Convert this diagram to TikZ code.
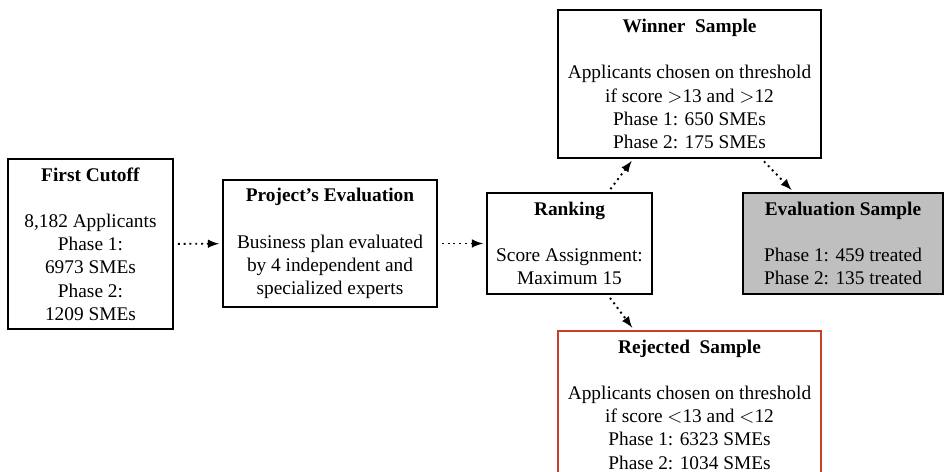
\documentclass[tikz,border=0pt]{standalone}
\usepackage{fontspec}
\setmainfont{Liberation Serif}
\usepackage{xcolor}
\usepackage{tikz}
\usetikzlibrary{arrows}
\definecolor{rejred}{RGB}{200,62,45}

\begin{document}
\begin{tikzpicture}[>= latex, shorten >=1.5pt, shorten <=2pt,
			box/.style={draw, line width=1pt, align=center, inner xsep=3pt, inner ysep=4.5pt},
			flow/.style={->, dotted, line width=1pt}]
		\useasboundingbox (0, 0) rectangle (17.152, -8.576);

		\node (cutoff) [box, minimum width=3cm] at (1.644, -4.433)
			{\textbf{First Cutoff}\\[12pt] 8,182 Applicants\\ Phase 1:\\ 6973 SMEs\\ Phase 2:\\ 1209 SMEs};
		\node (proj) [box, minimum width=3.89cm] at (5.996, -4.424)
			{\textbf{Project's Evaluation}\\[12pt] Business plan evaluated\\ by 4 independent and\\ specialized experts};
		\node (rank) [box, minimum width=3cm] at (10.348, -4.424)
			{\textbf{Ranking}\\[12pt] Score Assignment:\\ Maximum 15};
		\node (winner) [box, minimum width=4.78cm] at (12.528, -1.526)
			{\textbf{Winner\ \ Sample}\\[12pt] Applicants chosen on threshold\\ if score $>$13 and $>$12\\ Phase 1: 650 SMEs\\ Phase 2: 175 SMEs};
		\node (evalsample) [box, fill=lightgray, minimum width=3.65cm] at (15.317, -4.424)
			{\textbf{Evaluation Sample}\\[12pt] Phase 1: 459 treated\\ Phase 2: 135 treated};
		\node (rejected) [box, draw=rejred, anchor=north, minimum width=4.78cm] at (12.528, -5.996)
			{\textbf{Rejected\ \ Sample}\\[12pt] Applicants chosen on threshold\\ if score $<$13 and $<$12\\ Phase 1: 6323 SMEs\\ Phase 2: 1034 SMEs};

		\foreach \a/\b in {cutoff/proj, proj/rank, rank/winner, rank/rejected, winner/evalsample} {
				\draw [flow] (\a) -- (\b);
			}
	\end{tikzpicture}
\end{document}
